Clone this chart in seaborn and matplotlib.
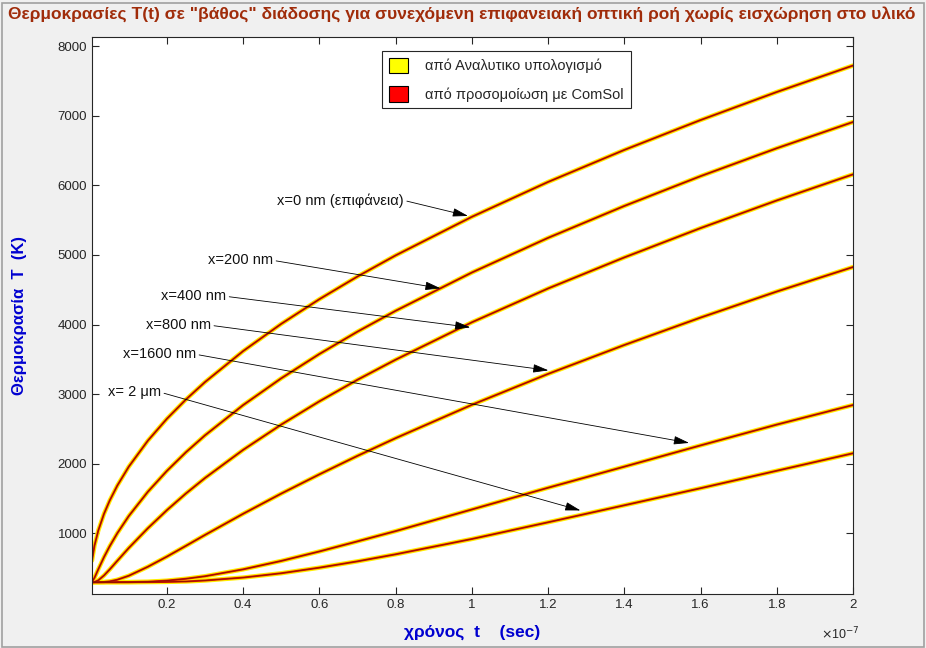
import numpy as np
import pandas as pd
import seaborn as sns
import matplotlib.pyplot as plt
from matplotlib.patches import Patch, Rectangle
from matplotlib.ticker import FuncFormatter

# time in units of 1e-7 s
t_units = [0.0035, 0.01, 0.02, 0.035, 0.05, 0.07, 0.1, 0.15, 0.2, 0.25, 0.3,
           0.4, 0.5, 0.6, 0.7, 0.8, 1.0, 1.2, 1.4, 1.6, 1.8, 2.0]

# temperature (K) at each depth
T_0nm = [611, 825, 1042, 1282, 1473, 1688, 1959, 2332, 2647, 2924, 3174,
         3619, 4010, 4364, 4690, 4993, 5547, 6048, 6508, 6937, 7340, 7720]
T_200nm = [304, 362, 485, 660, 817, 1004, 1250, 1598, 1898, 2166, 2409,
           2843, 3228, 3577, 3898, 4197, 4747, 5245, 5703, 6131, 6532, 6909]
T_400nm = [300, 302, 326, 396, 483, 607, 791, 1074, 1334, 1574, 1796,
           2200, 2563, 2897, 3207, 3495, 4032, 4518, 4964, 5385, 5782, 6157]
T_800nm = [300, 300, 300, 302, 311, 335, 392, 521, 667, 822, 978,
           1282, 1572, 1848, 2114, 2368, 2847, 3291, 3706, 4100, 4474, 4826]
T_1600nm = [300, 300, 300, 300, 300, 300, 301, 306, 322, 349, 385,
            484, 605, 741, 886, 1033, 1344, 1656, 1959, 2264, 2563, 2844]
T_2um = [300, 300, 300, 300, 300, 300, 300, 301, 304, 310, 324,
         366, 428, 508, 599, 700, 920, 1160, 1404, 1649, 1900, 2151]

depth_names = ["0 nm", "200 nm", "400 nm", "800 nm", "1600 nm", "2 um"]
series = [T_0nm, T_200nm, T_400nm, T_800nm, T_1600nm, T_2um]

labels = ["x=0 nm (επιφάνεια)", "x=200 nm", "x=400 nm", "x=800 nm",
          "x=1600 nm", "x= 2 μm"]
label_pos = [(0.821, 5784), (0.478, 4922), (0.355, 4405), (0.315, 3989),
             (0.276, 3572), (0.184, 3026)]
arrow_tip = [(0.99, 5560), (0.918, 4520), (0.996, 3960), (1.201, 3342),
             (1.57, 2300), (1.285, 1330)]

rows = []
for name, vals in zip(depth_names, series):
    for tt, v in zip(t_units, vals):
        rows.append({"depth": name, "t": tt * 1e-7, "T": v})
df = pd.DataFrame(rows)

sns.set_style("ticks")
plt.rcParams['font.family'] = ['Liberation Sans', 'DejaVu Sans']
narrow = ['Liberation Sans Narrow', 'Liberation Sans', 'DejaVu Sans']

fig = plt.figure(figsize=(9.26, 6.48), dpi=100)
fig.patch.set_facecolor('#f0f0f0')
ax = fig.add_axes([92 / 926, 1 - 594 / 648, 761 / 926, 557 / 648])
ax.set_facecolor('white')

# analytic (yellow, wide) with ComSol (red) drawn on top
sns.lineplot(data=df, x="t", y="T", units="depth", estimator=None,
             color="#ffee00", lw=3.2, ax=ax, legend=False)
sns.lineplot(data=df, x="t", y="T", units="depth", estimator=None,
             color="#e01800", lw=1.5, ax=ax, legend=False)
sns.lineplot(data=df, x="t", y="T", units="depth", estimator=None,
             color="#8a1000", lw=0.6, ax=ax, legend=False)

ax.set_xlim(0.0035e-7, 2e-7)
ax.set_ylim(130, 8130)
ax.set_xticks([v * 1e-7 for v in [0.2, 0.4, 0.6, 0.8, 1, 1.2, 1.4, 1.6, 1.8, 2]])
ax.set_yticks([1000, 2000, 3000, 4000, 5000, 6000, 7000, 8000])
ax.xaxis.set_major_formatter(FuncFormatter(lambda v, p: "%g" % round(v / 1e-7, 6)))
ax.tick_params(direction='in', top=True, right=True, length=5, width=0.8,
               colors='#262626', labelsize=9.5)
for s in ax.spines.values():
    s.set_color('#262626')
    s.set_linewidth(0.8)

for lab, (lx, ly), (tx, ty) in zip(labels, label_pos, arrow_tip):
    ax.annotate(lab, xy=(tx * 1e-7, ty), xytext=(lx * 1e-7, ly),
                ha='right', va='center', fontsize=10.5, color='#111111',
                arrowprops=dict(arrowstyle='-|>,head_length=0.9,head_width=0.25',
                                color='black', lw=0.6, relpos=(1.0, 0.5),
                                shrinkA=0, shrinkB=0))

ax.set_xlabel("χρόνος  t    (sec)", color='#0000d0', fontweight='bold',
              fontsize=12.5, family=narrow)
ax.set_ylabel("Θερμοκρασία  T  (K)", color='#0000d0', fontweight='bold',
              fontsize=12, family=narrow)
ax.xaxis.set_label_coords(0.5, -0.055)
ax.yaxis.set_label_coords(-0.085, 0.5)
ax.text(0.983, -0.072, r"$\times$10$^{-7}$", transform=ax.transAxes,
        ha='center', va='center', fontsize=9, color='#262626')

handles = [Patch(facecolor='#ffff00', edgecolor='black', lw=0.8),
           Patch(facecolor='#ff0000', edgecolor='black', lw=0.8)]
leg = ax.legend(handles, ["από Αναλυτικο υπολογισμό", "από προσομοίωση με ComSol"],
                loc='upper left', bbox_to_anchor=(0.372, 0.988), fontsize=10.5,
                frameon=True, fancybox=False, framealpha=1, edgecolor='#262626',
                handlelength=1.3, handleheight=1.3, labelspacing=0.85,
                handletextpad=1.2, borderpad=0.45)
leg.get_frame().set_linewidth(0.8)

fig.text(8 / 926, 1 - 14 / 648,
         'Θερμοκρασίες T(t) σε "βάθος" διάδοσης για συνεχόμενη επιφανειακή οπτική ροή χωρίς εισχώρηση στο υλικό',
         ha='left', va='center', fontsize=12.5, fontweight='bold',
         color='#a02c0a', family=narrow)

fig.patches.append(Rectangle((0.002, 0.002), 0.996, 0.994, transform=fig.transFigure,
                             fill=False, edgecolor='#a0a0a0', lw=1.2))

fig.savefig("out.png", dpi=100, facecolor=fig.get_facecolor())
